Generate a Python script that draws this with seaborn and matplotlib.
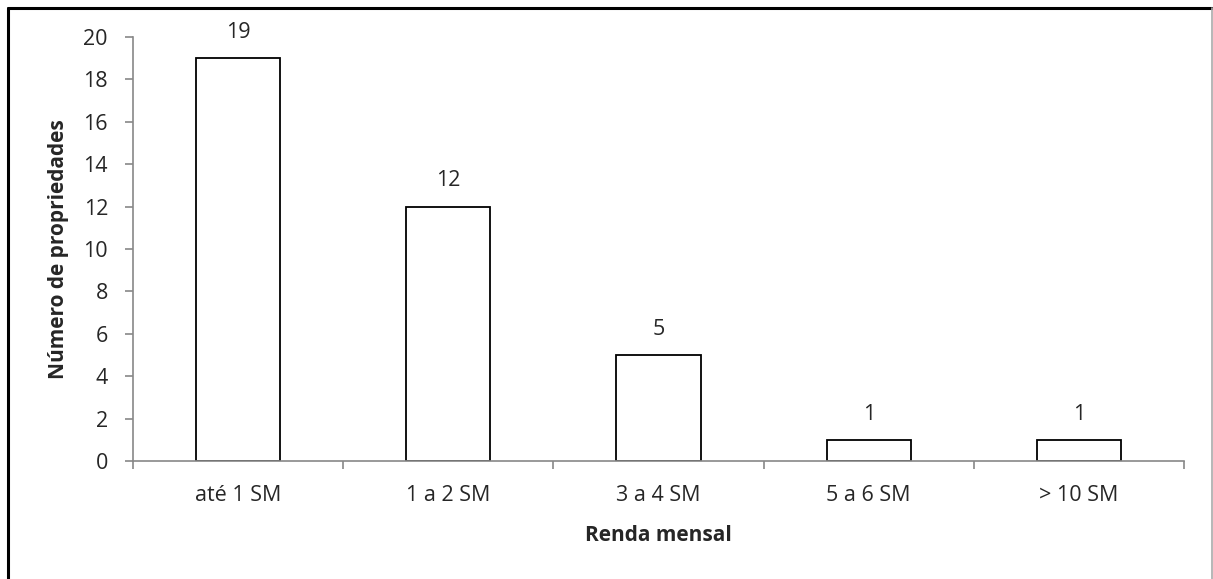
import matplotlib
matplotlib.use("Agg")
import matplotlib.pyplot as plt
import seaborn as sns
import pandas as pd
from matplotlib.lines import Line2D

categories = ["até 1 SM", "1 a 2 SM", "3 a 4 SM", "5 a 6 SM", "> 10 SM"]
counts = [19, 12, 5, 1, 1]
y_ticks = [0, 2, 4, 6, 8, 10, 12, 14, 16, 18, 20]

sns.set_style("white")
plt.rcParams["font.family"] = ["Open Sans", "DejaVu Sans"]

df = pd.DataFrame({"Renda mensal": categories, "Número de propriedades": counts})

fig = plt.figure(figsize=(12.13, 5.79), dpi=100)
ax = fig.add_axes([133 / 1213, 1 - 461 / 579, (1184 - 133) / 1213, (461 - 37) / 579])

sns.barplot(data=df, x="Renda mensal", y="Número de propriedades", ax=ax,
            color="white", edgecolor="black", linewidth=1.3, width=0.4, order=categories)

ax.set_xlim(-0.5, len(categories) - 0.5)
ax.set_ylim(0, 20)
ax.set_yticks(y_ticks)
ax.set_yticklabels([str(v) for v in y_ticks], fontsize=15.5)

# category labels centred under bars, tick marks at category boundaries
ax.set_xticks(range(len(categories)))
ax.set_xticklabels(categories, fontsize=15.5)
ax.tick_params(axis="x", which="major", bottom=True, length=0, pad=17)
ax.set_xticks([i - 0.5 for i in range(len(categories) + 1)], minor=True)
ax.tick_params(axis="x", which="minor", bottom=True, length=6, color="#888888",
               width=1.2, direction="out")
ax.tick_params(axis="y", left=True, length=6, color="#888888", width=1.2,
               direction="out", pad=12)

for side in ["top", "right"]:
    ax.spines[side].set_visible(False)
for side in ["left", "bottom"]:
    ax.spines[side].set_color("#888888")
    ax.spines[side].set_linewidth(1.2)

for i, v in enumerate(counts):
    ax.annotate(str(v), xy=(i, v), xytext=(0, 11), textcoords="offset points",
                ha="center", va="bottom", fontsize=15.5)

ax.set_xlabel("Renda mensal", fontsize=15, fontweight="bold", labelpad=14)
ax.set_ylabel("Número de propriedades", fontsize=15, fontweight="bold", labelpad=10)

# outer frame around the chart area
fig.add_artist(Line2D([8 / 1213, 8 / 1213], [0, 1 - 8 / 579], transform=fig.transFigure,
                      color="black", linewidth=2.2))
fig.add_artist(Line2D([8 / 1213, 1211.5 / 1213], [1 - 8 / 579, 1 - 8 / 579], transform=fig.transFigure,
                      color="black", linewidth=2.2))
fig.add_artist(Line2D([1211.5 / 1213, 1211.5 / 1213], [0, 1 - 8 / 579], transform=fig.transFigure,
                      color="#aaaaaa", linewidth=1.2))

fig.savefig("out.png", dpi=100)
